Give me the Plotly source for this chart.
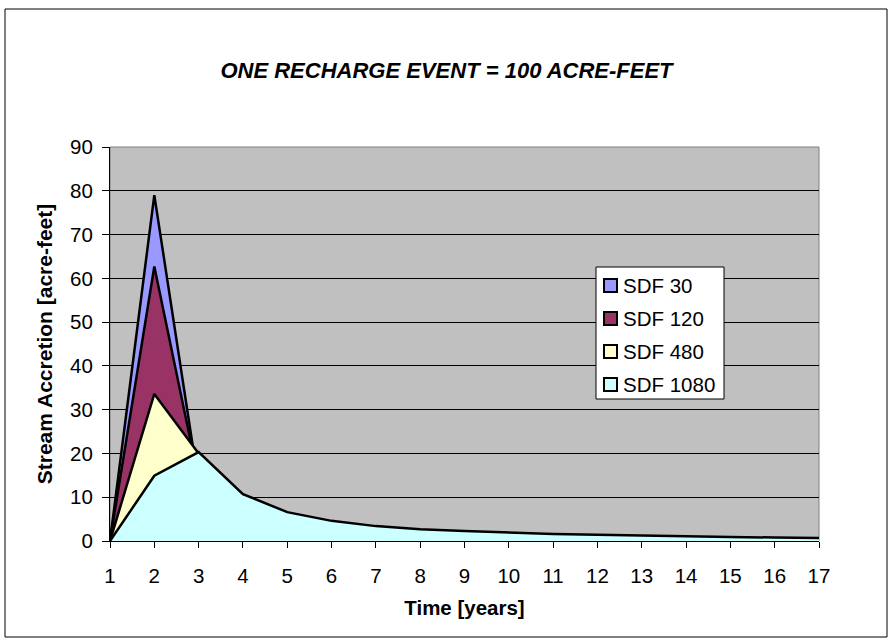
import plotly.graph_objects as go

years = list(range(1, 18))
series_names = ["SDF 30", "SDF 120", "SDF 480", "SDF 1080"]
sdf30 = [0, 79, 13, 2.5, 1.2, 0.7, 0.5, 0.4, 0.3, 0.25, 0.2, 0.18, 0.16, 0.14, 0.12, 0.1, 0.1]
sdf120 = [0, 62.7, 14, 5, 2.5, 1.5, 1.0, 0.8, 0.6, 0.5, 0.4, 0.35, 0.3, 0.27, 0.24, 0.2, 0.2]
sdf480 = [0, 33.6, 20, 9, 5, 3.3, 2.4, 1.8, 1.4, 1.1, 0.9, 0.8, 0.7, 0.6, 0.5, 0.45, 0.4]
sdf1080 = [0, 14.9, 20.3, 10.7, 6.6, 4.6, 3.4, 2.7, 2.3, 1.9, 1.6, 1.4, 1.2, 1.05, 0.9, 0.8, 0.7]
colors = ["#9999FF", "#993366", "#FFFFCC", "#CCFFFF"]
y_ticks = list(range(0, 91, 10))

fig = go.Figure()
for name, vals, col in zip(series_names, [sdf30, sdf120, sdf480, sdf1080], colors):
    fig.add_trace(go.Scatter(
        x=years, y=vals, name=name, mode="lines",
        line=dict(color="black", width=2.5),
        fill="tozeroy", fillcolor=col, hoverinfo="skip", showlegend=False,
    ))

L, R, T, B = 110, 74, 147, 102
W, H = 893, 643
pw, ph = W - L - R, H - T - B
FS = 20.5


def px(x):
    return (x - L) / pw


def py(y):
    return (H - B - y) / ph


fig.update_layout(
    width=W, height=H,
    margin=dict(l=L, r=R, t=T, b=B, pad=0),
    paper_bgcolor="white", plot_bgcolor="#C0C0C0",
    font=dict(family="Liberation Sans, Arial", size=FS, color="black"),
    title=dict(text="<b><i>ONE RECHARGE EVENT = 100 ACRE-FEET</i></b>",
               x=0.5, xanchor="center", xref="container",
               y=1 - 70 / H, yanchor="middle", yref="container",
               font=dict(size=22)),
    showlegend=False,
    xaxis=dict(range=[1, 17], tickmode="array", tickvals=years,
               ticks="outside", ticklen=6, tickcolor="black", ticklabelstandoff=10,
               showgrid=False, zeroline=False, showline=True, linecolor="black", linewidth=1,
               title=dict(text="<b>Time [years]</b>", font=dict(size=FS), standoff=15)),
    yaxis=dict(range=[0, 90], tickmode="array", tickvals=y_ticks,
               ticks="outside", ticklen=7, tickcolor="black", ticklabelstandoff=5,
               showgrid=True, gridcolor="black", gridwidth=1, zeroline=False,
               showline=True, linecolor="black", linewidth=1,
               title=dict(text="<b>Stream Accretion [acre-feet]</b>", font=dict(size=21), standoff=11)),
)

# plot area border
fig.add_shape(type="rect", xref="paper", yref="paper", x0=0, x1=1, y0=0, y1=1,
              line=dict(color="#808080", width=1), layer="below")
# outer chart border
fig.add_shape(type="rect", xref="paper", yref="paper",
              x0=px(5), x1=px(887), y0=py(637), y1=py(9),
              line=dict(color="black", width=1))

# legend box (drawn manually to match the reference swatch layout)
fig.add_shape(type="rect", xref="paper", yref="paper",
              x0=px(596), x1=px(724), y0=py(399), y1=py(267),
              fillcolor="white", line=dict(color="black", width=1))
for i, (name, col) in enumerate(zip(series_names, colors)):
    cy = 285.5 + 33 * i
    fig.add_shape(type="rect", xref="paper", yref="paper",
                  x0=px(604), x1=px(617), y0=py(cy + 6.5), y1=py(cy - 6.5),
                  fillcolor=col, line=dict(color="black", width=2))
    fig.add_annotation(xref="paper", yref="paper", x=px(621), y=py(cy),
                       xanchor="left", yanchor="middle", text=name, showarrow=False,
                       font=dict(size=FS), xshift=0)

fig.write_html("out.html", config={"displayModeBar": False},
               post_script="document.body.style.margin='0';document.body.style.overflow='hidden';")
